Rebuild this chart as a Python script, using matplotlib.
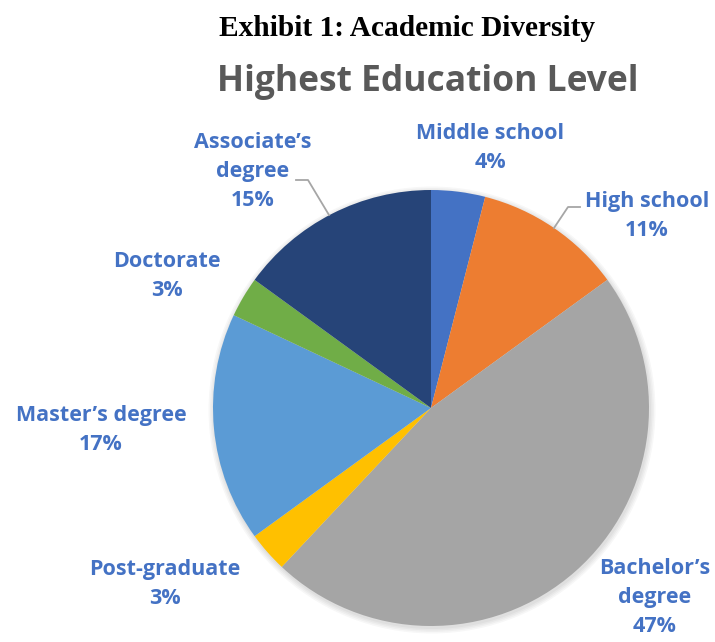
import matplotlib.pyplot as plt

labels = ["Middle school", "High school", "Bachelor\u2019s\ndegree", "Post-graduate",
          "Master\u2019s degree", "Doctorate", "Associate\u2019s\ndegree"]
shares = [4, 11, 47, 3, 17, 3, 15]
colors = ["#4472C4", "#ED7D31", "#A5A5A5", "#FFC000", "#5B9BD5", "#70AD47", "#264478"]

# label anchor points in pixels (x from left, y from top)
label_pos = [(490, 148), (647, 216), (655, 598), (165, 584),
             (101, 430), (167, 276), (253, 171)]

W, H = 715, 642
fig = plt.figure(figsize=(W / 100, H / 100), dpi=100)
ax = fig.add_axes([0, 0, 1, 1])

cx, cy, r = 431, H - 408, 218

# soft shadow under the pie
for i, a in enumerate([0.03, 0.03, 0.03, 0.03]):
    ax.add_patch(plt.Circle((cx + 1, cy - 2), r + 1 + i * 1.5, color="black", alpha=a, lw=0, zorder=0))

ax.pie(shares, colors=colors, startangle=90, counterclock=False,
       center=(cx, cy), radius=r, wedgeprops=dict(linewidth=0), frame=True)
ax.set_xlim(0, W)
ax.set_ylim(0, H)
ax.set_aspect("equal")
ax.axis("off")

lbl_font = dict(family=["Open Sans", "DejaVu Sans"], fontweight="bold", fontsize=15.5,
                color="#4472C4", ha="center", va="center", linespacing=1.5)
for lab, s, (x, y) in zip(labels, shares, label_pos):
    ax.text(x, H - y, f"{lab}\n{s}%", **lbl_font)

# leader lines
ax.plot([296, 308, 329], [H - 180, H - 180, H - 215], color="#A6A6A6", lw=1.3)
ax.plot([580, 568, 554], [H - 207, H - 207, H - 228], color="#A6A6A6", lw=1.3)

fig.text(407 / W, 1 - 28 / H, "Exhibit 1: Academic Diversity", family="Liberation Serif",
         fontweight="bold", fontsize=21.2, ha="center", va="center", color="black")
fig.text(428 / W, 1 - 82 / H, "Highest Education Level", family=["Open Sans", "DejaVu Sans"],
         fontweight="bold", fontsize=25.5, ha="center", va="center", color="#595959")

fig.savefig("out.png", dpi=100)
